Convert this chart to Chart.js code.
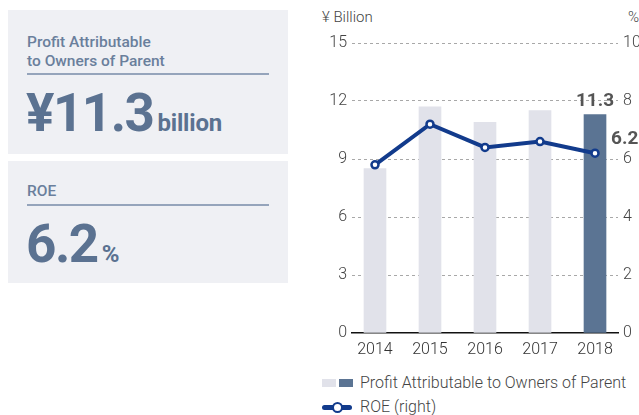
<!DOCTYPE html>
<html>
<head>
<meta charset="utf-8">
<script src="https://cdn.jsdelivr.net/npm/chart.js@4/dist/chart.umd.min.js"></script>
<style>
  html, body { margin: 0; padding: 0; background: #fff; }
  body { width: 639px; height: 415px; position: relative; overflow: hidden; font-family: Roboto, "Noto Sans", sans-serif; }
  .panel { position: absolute; left: 8px; width: 280px; background: #eff0f4; }
  .panel .title { position: absolute; left: 19px; color: #6a7f9c; font-size: 15.5px; font-weight: 500; line-height: 19px; }
  .panel .rule { position: absolute; left: 19px; width: 242px; height: 2px; background: #95a4bb; }
  .panel .big { position: absolute; left: 18px; color: #5b7291; font-weight: 700; white-space: nowrap; }
  .panel .big .num { font-size: 53px; letter-spacing: -1.5px; }
  .panel .big .unit { font-size: 24px; margin-left: 4px; letter-spacing: -0.2px; }
  #chartWrap { position: absolute; left: 300px; top: 0; width: 339px; height: 360px; }
  .axisTitle { position: absolute; top: 8px; font-size: 15px; color: #444; font-weight: 300; }
  .legend { position: absolute; left: 322px; font-size: 16px; color: #444; font-weight: 300; }
  .legend div { position: absolute; white-space: nowrap; }
</style>
</head>
<body>

<div class="panel" style="top:10px;height:144px;">
  <div class="title" style="top:23px;">Profit Attributable<br>to Owners of Parent</div>
  <div class="rule" style="top:63px;"></div>
  <div class="big" style="top:72px;"><span class="num">¥11.3</span><span class="unit">billion</span></div>
</div>

<div class="panel" style="top:161px;height:122px;">
  <div class="title" style="top:21px;">ROE</div>
  <div class="rule" style="top:43px;"></div>
  <div class="big" style="top:52px;"><span class="num">6.2</span><span class="unit">%</span></div>
</div>

<div class="axisTitle" style="left:322px;">¥ Billion</div>
<div class="axisTitle" style="left:628px;">%</div>

<div id="chartWrap"><canvas id="chart" width="339" height="360"></canvas></div>

<div class="legend" style="top:0;">
  <div style="left:0;top:379px;width:14px;height:8px;background:#e1e2ea;"></div>
  <div style="left:17px;top:379px;width:14px;height:8px;background:#5b7493;"></div>
  <div style="left:38px;top:373px;">Profit Attributable to Owners of Parent</div>
  <div style="left:0;top:405px;width:30px;height:5px;border-radius:3px;background:#123b8c;"></div>
  <div style="left:10px;top:402px;width:7px;height:7px;border-radius:50%;background:#fff;border:2.5px solid #123b8c;"></div>
  <div style="left:38px;top:397px;">ROE (right)</div>
</div>

<script>
// ── DATA ───────────────────────────────────────────────────────────────────
const YEARS  = ['2014', '2015', '2016', '2017', '2018'];
const PROFIT = [8.5, 11.7, 10.9, 11.5, 11.3];   // ¥ billion (left axis)
const ROE    = [5.8, 7.2, 6.4, 6.6, 6.2];       // % (right axis)

const LEFT_TICKS  = { min: 0, max: 15, step: 3 };
const RIGHT_TICKS = { min: 0, max: 10, step: 2 };

// ── STYLE ──────────────────────────────────────────────────────────────────
const BAR_LIGHT = '#e1e2ea';
const BAR_DARK  = '#5b7493';
const LINE_COL  = '#123b8c';
const TICK_FONT = { family: 'Roboto', size: 16, weight: '300' };

// Value labels on the latest bar and latest ROE point
const lastLabels = {
  id: 'lastLabels',
  afterDatasetsDraw(chart) {
    const ctx = chart.ctx;
    const last = YEARS.length - 1;
    const bar = chart.getDatasetMeta(1).data[last];
    const pt  = chart.getDatasetMeta(0).data[last];
    ctx.save();
    ctx.fillStyle = '#555';
    ctx.font = '700 19px Roboto';
    ctx.textBaseline = 'middle';
    ctx.textAlign = 'center';
    ctx.fillText(PROFIT[last].toFixed(1), bar.x, bar.y - 13);
    ctx.textAlign = 'left';
    ctx.fillText(ROE[last].toFixed(1), pt.x + 16, pt.y - 14);
    ctx.restore();
  }
};

new Chart(document.getElementById('chart'), {
  data: {
    datasets: [
      {
        type: 'line',
        label: 'ROE (right)',
        data: ROE.map((v, i) => ({ x: i, y: v })),
        yAxisID: 'y2',
        borderColor: LINE_COL,
        borderWidth: 4,
        pointRadius: 3.5,
        pointBorderWidth: 2.5,
        pointBackgroundColor: '#fff',
        pointBorderColor: LINE_COL,
        tension: 0,
        order: 0,
      },
      {
        type: 'bar',
        label: 'Profit Attributable to Owners of Parent',
        data: PROFIT.map((v, i) => ({ x: i, y: v })),
        yAxisID: 'y',
        backgroundColor: PROFIT.map((_, i) => i === PROFIT.length - 1 ? BAR_DARK : BAR_LIGHT),
        barThickness: 22,
        order: 1,
      },
    ],
  },
  options: {
    responsive: false,
    animation: false,
    layout: { padding: { top: 43, left: 0, right: 0, bottom: 0 } },
    plugins: { legend: { display: false }, tooltip: { enabled: false } },
    scales: {
      x: {
        type: 'linear',
        offset: false,
        min: -0.418,
        max: YEARS.length - 1 + 0.418,
        afterBuildTicks: s => { s.ticks = YEARS.map((_, i) => ({ value: i })); },
        afterFit: s => { s.height = 27; },
        ticks: {
          callback: v => YEARS[v] ?? '',
          color: '#333', font: TICK_FONT, padding: -1, maxRotation: 0, autoSkip: false,
        },
        grid: { display: false },
        border: { display: true, color: '#111', width: 1.5 },
      },
      y: {
        position: 'left',
        min: LEFT_TICKS.min, max: LEFT_TICKS.max,
        afterFit: s => { s.width = 52; },
        ticks: { stepSize: LEFT_TICKS.step, color: '#444', font: TICK_FONT, padding: 5 },
        grid: {
          color: c => c.tick.value === 0 ? 'rgba(0,0,0,0)' : '#a8a8a8',
          lineWidth: 1,
          drawTicks: false,
        },
        border: { display: false, dash: [3, 3] },
      },
      y2: {
        position: 'right',
        min: RIGHT_TICKS.min, max: RIGHT_TICKS.max,
        afterFit: s => { s.width = 21; },
        ticks: { stepSize: RIGHT_TICKS.step, color: '#444', font: TICK_FONT, padding: 5 },
        grid: { display: false, drawTicks: false },
        border: { display: false },
      },
    },
  },
  plugins: [lastLabels],
});
</script>
</body>
</html>
